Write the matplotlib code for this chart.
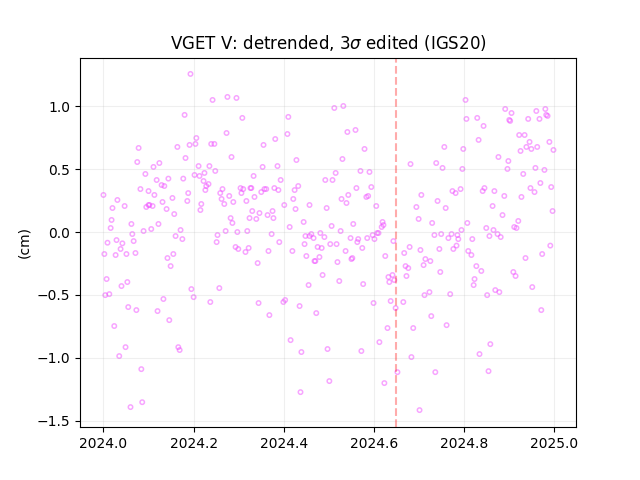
import numpy as np
import matplotlib
matplotlib.use('Agg')
import matplotlib.pyplot as plt

# fraction of 2024 and detrended V residual (cm)
t_frac = [
    .193,.242,.275,.295,.180,.308,.273,.206,.204,.191,.164,.078,.239,.246,.284,.182,.075,.124,.111,.211,
    .235,.248,.093,.224,.202,.213,.118,.144,.177,.222,.233,.228,.129,.135,.082,.100,.226,.264,.304,.310,
    .259,.306,.188,.000,.113,.279,.153,.031,.262,.131,.186,.288,.317,.268,.217,.047,.095,.100,.102,.109,
    .020,.140,.215,.157,.282,.018,.286,.062,.122,.016,.171,.106,.089,.271,.297,.319,.064,.253,.160,.175,
    .029,.067,.009,.042,.251,.324,.326,
    .038,.002,.027,.051,.071,.142,.155,.149,.007,.053,.040,.195,.257,.004,.013,.200,.133,.237,.055,.073,
    .120,.146,.024,.049,.166,.169,.035,.084,.086,.060,.293,.299,.315,.322,
    .512,.532,.410,.408,.541,.559,.381,.355,.579,.428,.530,.353,.386,.681,.333,.570,.590,.515,.393,.492,
    .508,.432,.561,.594,.328,.379,.357,.361,.424,.388,.350,.543,.335,.528,.421,.587,.583,.539,.401,.457,
    .426,.495,.605,.330,.375,.346,.364,.339,.377,.444,.554,.619,.621,.617,.413,.506,.526,.373,.481,.461,
    .448,.457,.466,.490,.548,.565,.585,.597,.607,.610,.601,.643,.390,.563,.446,.503,.517,
    .475,.484,.574,.679,.366,.419,.537,.667,.450,.479,.625,.342,.468,.470,.519,.550,.552,.670,.676,.486,
    .641,.632,.672,.645,.634,.455,.523,.576,.344,.399,.403,.435,.599,.637,.665,.648,.368,.472,.630,.687,
    .415,.612,.439,.497,.572,.683,.652,.501,.623,.437,
    .803,.891,.905,.960,.980,.805,.829,.900,.902,.942,.967,.982,.985,.843,.922,.934,.832,.945,.989,.938,
    .756,.949,.962,.798,.925,.998,.876,.898,.738,.752,.796,.896,.958,.978,.931,.969,.947,.956,.993,.792,
    .774,.781,.845,.841,.867,.889,.927,.705,.741,.694,.759,.863,.996,.885,.699,.729,.807,.920,.911,.916,
    .849,.865,.794,.734,.749,.772,.785,.874,.856,.881,.765,.787,.818,.783,.991,
    .703,.745,.776,.809,.816,.973,.936,.714,.725,.710,.827,.838,.909,.914,.747,.823,.821,.951,.712,.723,
    .769,.851,.869,.878,.971,.727,.761,.858,.834,.736,.854,.701,
]
v_cm = [
    1.258,1.051,1.075,1.067,.932,.908,.788,.748,.701,.693,.677,.669,.701,.701,.597,.589,.557,.549,.518,.525,
    .525,.486,.462,.470,.454,.446,.414,.425,.425,.406,.382,.366,.374,.366,.342,.326,.334,.342,.350,.342,
    .310,.310,.310,.295,.295,.287,.271,.255,.263,.239,.247,.239,.247,.223,.223,.207,.199,.215,.215,.207,
    .191,.183,.175,.143,.111,.096,.072,.064,.064,.032,.016,.024,.008,.008,.000,.008,-.016,-.024,-.032,-.056,
    -.064,-.072,-.085,-.090,-.080,.111,.350,
    -.135,-.175,-.183,-.175,-.167,-.207,-.175,-.271,-.374,-.398,-.430,-.454,-.446,-.502,-.494,-.518,-.533,-.557,-.597,-.621,
    -.629,-.701,-.748,-.916,-.916,-.939,-.987,-1.091,-1.354,-1.393,-.119,-.135,-.159,-.127,
    .987,1.003,.916,.780,.796,.812,.740,.693,.661,.573,.581,.518,.525,.541,.446,.486,.478,.470,.414,.414,
    .414,.366,.350,.358,.350,.350,.342,.342,.334,.334,.318,.295,.279,.263,.263,.287,.279,.231,.215,.215,
    .183,.191,.207,.167,.167,.151,.135,.104,.111,.080,.064,.080,.056,.040,.040,.048,.008,-.016,-.008,-.016,
    -.032,-.032,-.048,-.040,-.048,-.056,-.048,-.024,-.008,-.008,-.056,-.072,-.080,-.080,-.096,-.096,-.096,
    -.119,-.127,-.127,-.119,-.151,-.151,-.151,-.167,-.191,-.199,-.191,-.247,-.231,-.231,-.239,-.215,-.207,-.271,-.287,-.342,
    -.342,-.358,-.350,-.382,-.398,-.422,-.390,-.414,-.565,-.557,-.541,-.589,-.565,-.549,-.557,-.605,-.661,-.645,-.764,-.764,
    -.860,-.876,-.955,-.931,-.947,-.995,-1.115,-1.186,-1.202,-1.274,
    1.051,.979,.947,.963,.979,.900,.908,.892,.884,.900,.900,.932,.924,.844,.772,.772,.733,.717,.717,.677,
    .677,.661,.677,.661,.645,.653,.597,.565,.549,.510,.502,.502,.510,.494,.462,.390,.350,.318,.358,.342,
    .326,.310,.350,.326,.326,.287,.279,.295,.247,.199,.191,.207,.167,.135,.104,.072,.072,.088,.040,.032,
    .032,.016,.016,-.024,-.016,-.016,-.024,-.016,-.032,-.040,-.048,-.056,-.056,-.108,-.108,
    -.143,-.135,-.135,-.151,-.183,-.175,-.207,-.215,-.231,-.263,-.271,-.310,-.318,-.350,-.318,-.374,-.422,-.438,-.502,-.478,
    -.494,-.502,-.462,-.478,-.621,-.669,-.741,-.892,-.971,-1.115,-1.107,-1.417,
]

x = 2024 + np.array(t_frac)
y = np.array(v_cm)

fig, ax = plt.subplots()
ax.scatter(x, y, s=10, linewidths=1.1, facecolors='none', edgecolors='#f04dff', alpha=0.5)
ax.axvline(2024.648, color='red', linestyle='--', alpha=0.33)
ax.grid(alpha=0.2)
ax.set_xlim(2023.948, 2025.048)
ax.set_ylim(-1.553, 1.388)
ax.set_ylabel('(cm)')
ax.set_title(r'VGET V: detrended, $3\sigma$ edited (IGS20)')
fig.savefig('out.png', dpi=100)
